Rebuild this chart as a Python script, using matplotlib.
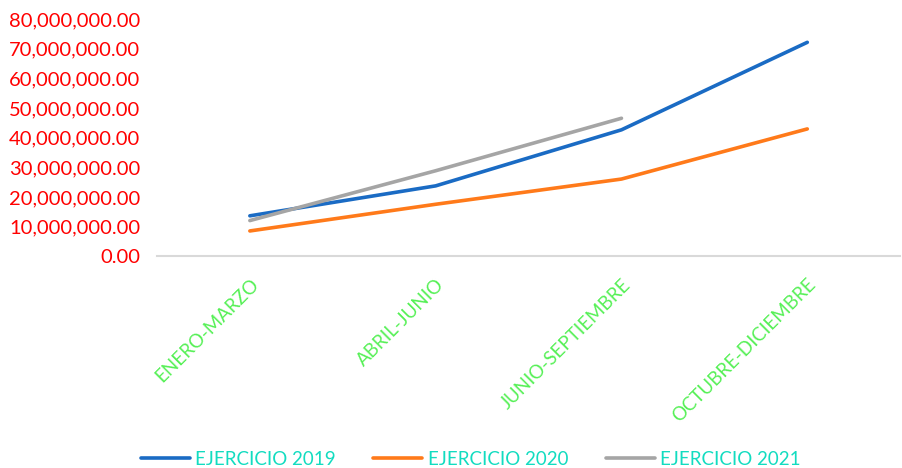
import matplotlib
matplotlib.use("Agg")
import matplotlib.pyplot as plt
from matplotlib.ticker import FuncFormatter

categories = ["ENERO-MARZO", "ABRIL-JUNIO", "JUNIO-SEPTIEMBRE", "OCTUBRE-DICIEMBRE"]
ejercicio_2019 = [13.7e6, 23.8e6, 42.7e6, 72.2e6]
ejercicio_2020 = [8.6e6, 17.6e6, 26.1e6, 43.0e6]
ejercicio_2021 = [12.1e6, 28.9e6, 46.6e6]
series_names = ["EJERCICIO 2019", "EJERCICIO 2020", "EJERCICIO 2021"]
y_ticks = [0, 10e6, 20e6, 30e6, 40e6, 50e6, 60e6, 70e6, 80e6]

plt.rcParams['font.family'] = ['Lato', 'DejaVu Sans']

fig = plt.figure(figsize=(9.02, 4.68), dpi=100)
ax = fig.add_axes([0.174, 0.452, 0.824, 0.507])

x = list(range(len(categories)))
ax.plot(x, ejercicio_2019, color="#1A6BC4", lw=2.6, label=series_names[0], solid_capstyle='round')
ax.plot(x, ejercicio_2020, color="#FF7A1A", lw=2.6, label=series_names[1], solid_capstyle='round')
ax.plot(x[:len(ejercicio_2021)], ejercicio_2021, color="#A5A5A5", lw=2.6, label=series_names[2], solid_capstyle='round')

ax.set_xlim(-0.5, 3.5)
ax.set_ylim(0, 80e6)
ax.set_yticks(y_ticks)
ax.yaxis.set_major_formatter(FuncFormatter(lambda v, p: f"{v:,.2f}"))
ax.tick_params(axis='y', length=0, labelsize=14.5, labelcolor='#FF0000', pad=12)
ax.set_xticks(x)
ax.set_xticklabels(categories, rotation=45, ha='right', rotation_mode='anchor',
                   color='#55F055', fontsize=13.5)
ax.tick_params(axis='x', length=0, pad=14)

for s in ['top', 'right', 'left']:
    ax.spines[s].set_visible(False)
ax.spines['bottom'].set_color('#D9D9D9')
ax.spines['bottom'].set_linewidth(1.5)

leg = fig.legend(loc='lower center', bbox_to_anchor=(0.522, -0.035), ncol=3, frameon=False,
                 fontsize=13.5, handlelength=2.6, handletextpad=0.3, columnspacing=2.0)
for t in leg.get_texts():
    t.set_color('#12DCC0')

fig.savefig("out.png", dpi=100)
